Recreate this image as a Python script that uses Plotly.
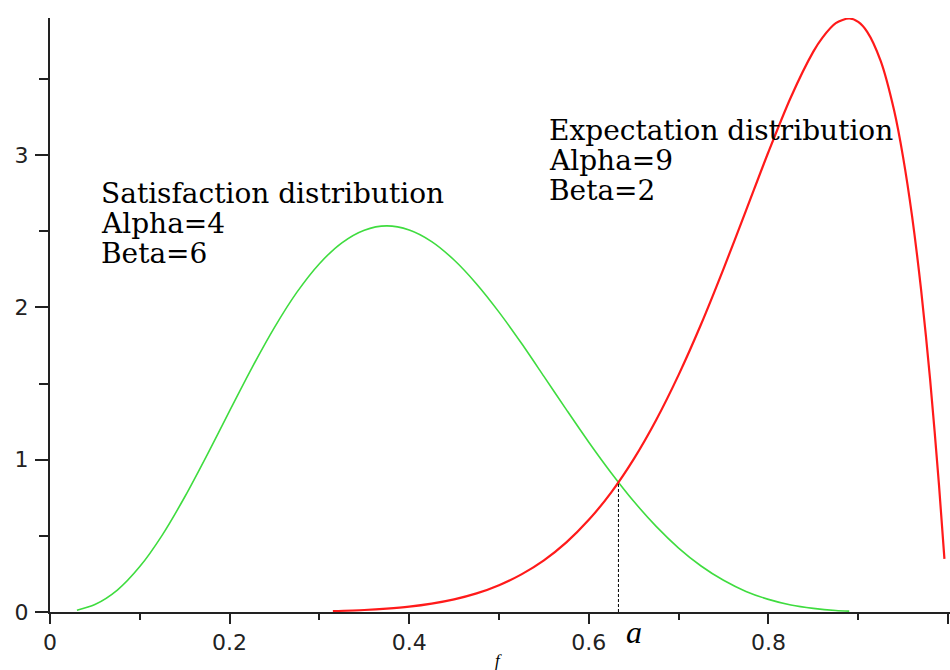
import plotly.graph_objects as go

# Satisfaction distribution, Beta(alpha=4, beta=6) density
sat_x = [0.03, 0.05, 0.075, 0.1, 0.125, 0.15, 0.175, 0.2, 0.225, 0.25, 0.275, 0.3,
         0.325, 0.35, 0.375, 0.4, 0.425, 0.45, 0.475, 0.5, 0.525, 0.55, 0.575, 0.6,
         0.625, 0.65, 0.675, 0.7, 0.725, 0.75, 0.775, 0.8, 0.825, 0.85, 0.875, 0.89]
sat_y = [0.012, 0.049, 0.144, 0.298, 0.505, 0.755, 1.032, 1.321, 1.605, 1.869, 2.100, 2.287,
         2.424, 2.507, 2.535, 2.508, 2.432, 2.311, 2.154, 1.969, 1.764, 1.547, 1.329, 1.115,
         0.913, 0.727, 0.562, 0.420, 0.302, 0.208, 0.135, 0.083, 0.046, 0.024, 0.010, 0.006]

# Expectation distribution, Beta(alpha=9, beta=2) density
exp_x = [0.315, 0.35, 0.375, 0.4, 0.425, 0.45, 0.475, 0.5, 0.525, 0.55, 0.575, 0.6,
         0.625, 0.65, 0.675, 0.7, 0.725, 0.75, 0.775, 0.8, 0.825, 0.85, 0.86, 0.875,
         0.89, 0.9, 0.91, 0.925, 0.94, 0.95, 0.96, 0.97, 0.98, 0.99, 0.996]
exp_y = [0.006, 0.013, 0.022, 0.035, 0.055, 0.083, 0.122, 0.176, 0.247, 0.339, 0.457, 0.605,
         0.786, 1.004, 1.261, 1.557, 1.889, 2.253, 2.635, 3.020, 3.380, 3.679, 3.770, 3.866,
         3.897, 3.874, 3.809, 3.618, 3.292, 2.985, 2.597, 2.116, 1.531, 0.830, 0.349]

# Crossing point of the two densities
a_x = 0.633
a_y = 0.843

x_ticks = [0, 0.2, 0.4, 0.6, 0.8, 1]
x_labels = ["0", "0.2", "0.4", "0.6", "0.8", "1"]
y_ticks = [0, 1, 2, 3]
y_labels = ["0", "1", "2", "3"]

sat_lines = ["Satisfaction distribution", "Alpha=4", "Beta=6"]
exp_lines = ["Expectation distribution", "Alpha=9", "Beta=2"]

W, H = 950, 670
ML, MR, MT, MB = 50, 0, 18, 58
PW, PH = W - ML - MR, H - MT - MB


def px(x):
    return (x - ML) / PW


def py(y):
    return (H - MB - y) / PH


fig = go.Figure()
fig.add_trace(go.Scatter(x=sat_x, y=sat_y, mode="lines",
                         line=dict(color="#3fdc3f", width=1.6, shape="spline", smoothing=0.8),
                         hoverinfo="skip"))
fig.add_trace(go.Scatter(x=exp_x, y=exp_y, mode="lines",
                         line=dict(color="#ff1a1a", width=2.2, shape="spline", smoothing=0.8),
                         hoverinfo="skip"))

fig.add_shape(type="line", x0=a_x, x1=a_x, y0=0, y1=a_y, xref="x", yref="y",
              line=dict(color="black", width=1, dash="3px,2px"))

serif = "DejaVu Serif"
annotations = []
for i, t in enumerate(sat_lines):
    annotations.append(dict(text=t, x=px(99), y=py(193 + 30 * i), xref="paper", yref="paper",
                            xanchor="left", yanchor="middle", showarrow=False,
                            font=dict(family=serif, size=28, color="black")))
for i, t in enumerate(exp_lines):
    annotations.append(dict(text=t, x=px(547), y=py(130 + 30 * i), xref="paper", yref="paper",
                            xanchor="left", yanchor="middle", showarrow=False,
                            font=dict(family=serif, size=28, color="black")))
annotations.append(dict(text="<i>a</i>", x=px(634), y=py(632), xref="paper", yref="paper",
                        xanchor="center", yanchor="middle", showarrow=False,
                        font=dict(family="Liberation Serif", size=32, color="black")))
annotations.append(dict(text="<i>f</i>", x=px(498), y=py(649), xref="paper", yref="paper",
                        xanchor="center", yanchor="top", showarrow=False,
                        font=dict(family="Liberation Serif", size=17, color="black")))

tick_font = dict(family="DejaVu Sans", size=22, color="#222222")

fig.update_layout(
    width=W, height=H,
    margin=dict(l=ML, r=MR, t=MT, b=MB),
    paper_bgcolor="white", plot_bgcolor="white",
    showlegend=False,
    annotations=annotations,
    xaxis=dict(range=[0, 1.0022], showgrid=False, zeroline=False,
               showline=True, linecolor="#222222", linewidth=2,
               ticks="outside", ticklen=10, tickwidth=2, tickcolor="#222222",
               tickvals=x_ticks, ticktext=x_labels, tickfont=tick_font,
               ticklabelstandoff=0,
               minor=dict(dtick=0.2, tick0=0.1, ticks="outside", ticklen=6,
                          tickwidth=2, tickcolor="#222222", showgrid=False)),
    yaxis=dict(range=[0, 3.9], showgrid=False, zeroline=False,
               showline=True, linecolor="#222222", linewidth=2,
               ticks="outside", ticklen=13, tickwidth=2, tickcolor="#222222",
               tickvals=y_ticks, ticktext=y_labels, tickfont=tick_font,
               ticklabelstandoff=2,
               minor=dict(dtick=1, tick0=0.5, ticks="outside", ticklen=9,
                          tickwidth=2, tickcolor="#222222", showgrid=False)),
)

fig.write_html("out.html")
